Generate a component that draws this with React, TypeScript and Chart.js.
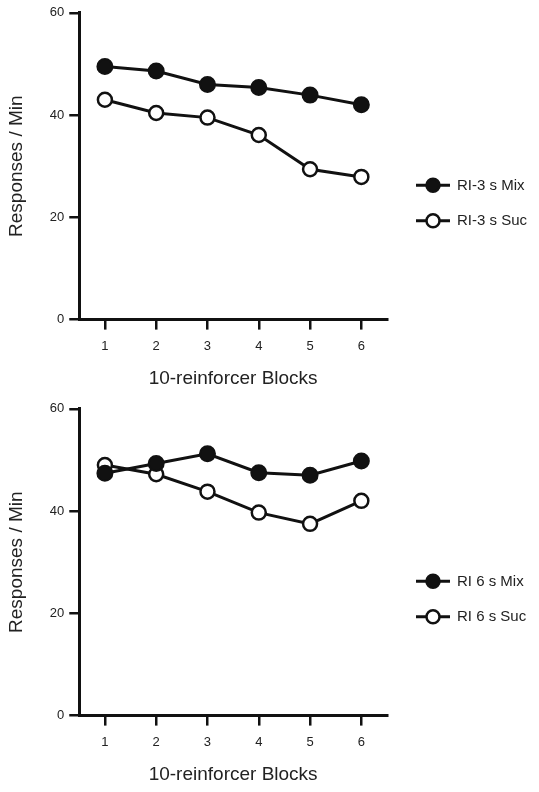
import React, { useEffect, useRef } from "react";
import { Chart, registerables } from "chart.js";

Chart.register(...registerables);

const blocks = ["1", "2", "3", "4", "5", "6"];
const yMin = 0;
const yMax = 60;
const yStep = 20;
const xTitle = "10-reinforcer Blocks";
const yTitle = "Responses / Min";

const topLabels = ["RI-3 s Mix", "RI-3 s Suc"];
const topMix = [49.5, 48.6, 46.0, 45.4, 43.9, 42.0];
const topSuc = [43.0, 40.4, 39.5, 36.1, 29.4, 27.9];

const bottomLabels = ["RI 6 s Mix", "RI 6 s Suc"];
const bottomMix = [47.4, 49.3, 51.2, 47.5, 47.0, 49.8];
const bottomSuc = [49.0, 47.2, 43.8, 39.7, 37.5, 42.0];

const INK = "#111";
const TEXT = "#222";
const FONT = "'Liberation Sans', Arial, Helvetica, sans-serif";

// Side legend drawn next to the plot area (line + marker + label)
const sideLegend = {
  id: "sideLegend",
  afterDraw(chart: any) {
    const { ctx, chartArea } = chart;
    const x0 = chartArea.right + 29;
    const y0 = chartArea.top + chartArea.height * 0.562;
    chart.data.datasets.forEach((ds: any, i: number) => {
      const y = y0 + i * 35.5;
      ctx.save();
      ctx.strokeStyle = INK;
      ctx.lineWidth = 3;
      ctx.beginPath();
      ctx.moveTo(x0, y);
      ctx.lineTo(x0 + 34, y);
      ctx.stroke();
      ctx.beginPath();
      ctx.arc(x0 + 17, y, 6.5, 0, Math.PI * 2);
      ctx.fillStyle = ds.pointBackgroundColor;
      ctx.fill();
      ctx.lineWidth = 2.5;
      ctx.stroke();
      ctx.fillStyle = TEXT;
      ctx.font = `15px ${FONT}`;
      ctx.textAlign = "left";
      ctx.textBaseline = "middle";
      ctx.fillText(ds.label, x0 + 41, y + 0.5);
      ctx.restore();
    });
  },
};

function Panel({ labels, mix, suc }: { labels: string[]; mix: number[]; suc: number[] }) {
  const ref = useRef<HTMLCanvasElement>(null);
  useEffect(() => {
    if (!ref.current) return;
    const axisGrid = {
      display: true,
      drawOnChartArea: false,
      drawTicks: true,
      tickLength: 10,
      color: INK,
      lineWidth: 2.5,
    };
    const axisBorder = { display: true, color: INK, width: 3 };
    const chart = new Chart(ref.current, {
      type: "line",
      data: {
        labels: blocks,
        datasets: [
          {
            label: labels[0],
            data: mix,
            borderColor: INK,
            backgroundColor: INK,
            borderWidth: 3,
            pointRadius: 7.5,
            pointBorderWidth: 2,
            pointBackgroundColor: INK,
            pointBorderColor: INK,
            tension: 0,
          },
          {
            label: labels[1],
            data: suc,
            borderColor: INK,
            backgroundColor: "#fff",
            borderWidth: 3,
            pointRadius: 7,
            pointBorderWidth: 2.5,
            pointBackgroundColor: "#fff",
            pointBorderColor: INK,
            tension: 0,
          },
        ],
      },
      options: {
        animation: false,
        responsive: false,
        layout: { padding: { top: 7, right: 152, bottom: 6, left: 0 } },
        plugins: {
          tooltip: { enabled: false },
          legend: { display: false },
        },
        scales: {
          x: {
            type: "category",
            offset: true,
            grid: axisGrid,
            border: axisBorder,
            ticks: { padding: 9, color: TEXT, font: { size: 13, family: FONT } },
            title: {
              display: true,
              text: xTitle,
              color: TEXT,
              font: { size: 19, family: FONT },
              padding: { top: 4, bottom: 0 },
            },
          },
          y: {
            min: yMin,
            max: yMax,
            grid: axisGrid,
            border: axisBorder,
            ticks: { stepSize: yStep, padding: 5, color: TEXT, font: { size: 13, family: FONT } },
            title: {
              display: true,
              text: yTitle,
              color: TEXT,
              font: { size: 19, family: FONT },
              padding: { top: 5, bottom: 17 },
            },
          },
        },
      },
      plugins: [sideLegend],
    } as any);
    return () => chart.destroy();
  }, [labels, mix, suc]);
  return (
    <div style={{ width: 539, height: 396 }}>
      <canvas ref={ref} width={539} height={396} style={{ display: "block" }} />
    </div>
  );
}

export default function App() {
  return (
    <div style={{ position: "absolute", left: 0, top: 0, width: 539, height: 792, background: "#fff" }}>
      <Panel labels={topLabels} mix={topMix} suc={topSuc} />
      <Panel labels={bottomLabels} mix={bottomMix} suc={bottomSuc} />
    </div>
  );
}
